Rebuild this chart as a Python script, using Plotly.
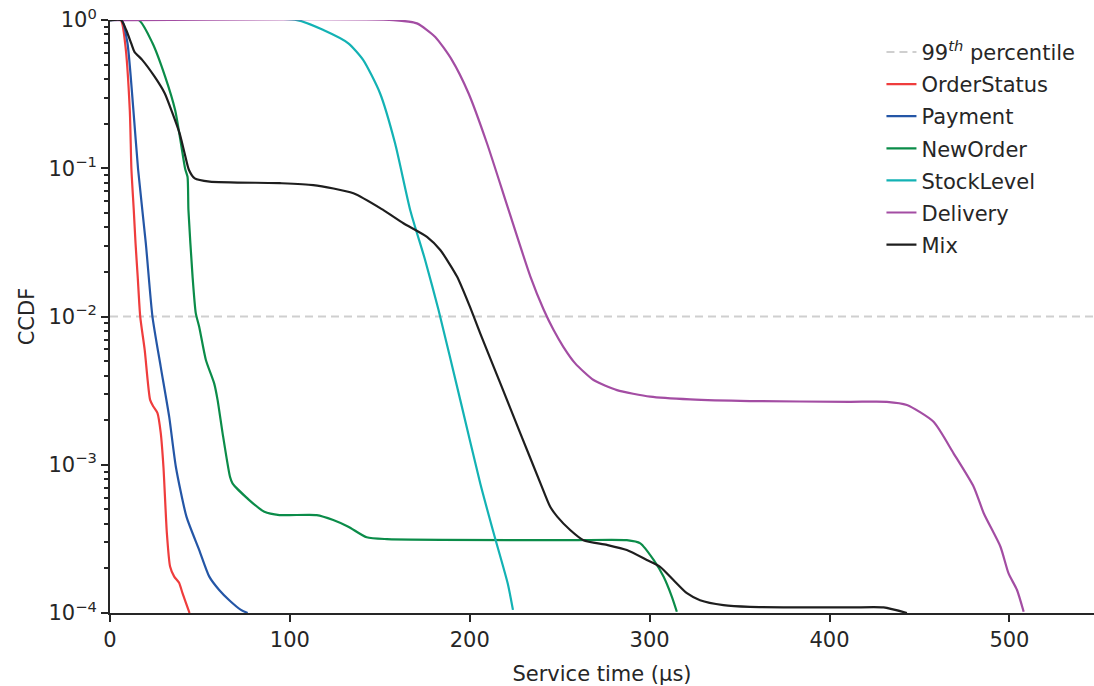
import plotly.graph_objects as go

# ---------------- data ----------------
x_orderstatus = [0, 6, 8.4, 11, 11.9, 13.2, 14.2, 15.4, 16.8, 19.3, 22.3, 24.1, 26.4, 28.2,
                 29.7, 31.6, 33.4, 35.7, 38.4, 40.3, 43.6, 44.2]
y_orderstatus = [1, 1, 0.70, 0.247, 0.0989, 0.0525, 0.0312, 0.0186, 0.01, 0.00594, 0.00274,
                 0.00247, 0.00223, 0.00164, 0.00097, 0.000347, 0.000206, 0.000176, 0.000160,
                 0.000136, 0.000105, 0.0001]

x_payment = [0, 6.5, 9.7, 13, 15.6, 19.9, 23.6, 28.2, 32.9, 36.6, 42.5, 49.6, 55.2, 60.7,
             66.3, 72.8, 76.5]
y_payment = [1, 1, 0.70, 0.247, 0.0989, 0.0313, 0.01, 0.00458, 0.00211, 0.00097, 0.000447,
             0.000266, 0.000176, 0.000143, 0.000122, 0.000105, 0.0001]

x_neworder = [0, 16, 23.6, 30.6, 36.2, 39.4, 41.8, 43.1, 43.6, 45.9, 47.7, 49.6, 53.3, 57.9,
              59.8, 62.6, 66.7, 68.1, 77.4, 85.8, 94.2, 114.9, 124.1, 132.5, 142.7, 153.9,
              256, 287.3, 294.8, 302.2, 307.7, 312.3, 315.1]
y_neworder = [1, 1, 0.70, 0.417, 0.247, 0.148, 0.0989, 0.0877, 0.0523, 0.0186, 0.0105,
              0.0085, 0.00509, 0.00354, 0.00274, 0.00163, 0.00083, 0.00075, 0.000578,
              0.000482, 0.000458, 0.000458, 0.000424, 0.000382, 0.000324, 0.000315,
              0.00031, 0.00031, 0.000295, 0.000228, 0.000176, 0.000129, 0.000102]

x_stocklevel = [0, 104, 118.6, 132.5, 140.8, 150.1, 158.5, 166.9, 175.2, 182.6, 194.7,
                205.8, 213.3, 221.1, 224]
y_stocklevel = [1, 1, 0.857, 0.697, 0.537, 0.321, 0.147, 0.0522, 0.024, 0.0111, 0.00274,
                0.00075, 0.000345, 0.000158, 0.000105]

x_delivery = [0, 157.5, 170.6, 180.8, 190.1, 199.3, 209.6, 221.6, 233.7, 241.1, 246.6, 252,
              258.6, 268.8, 281.8, 300.3, 322.5, 355.8, 411.4, 431.9, 443, 457.8, 469,
              480.1, 485.7, 495, 499.5, 504.2, 507.9]
y_delivery = [1, 1, 0.95, 0.77, 0.537, 0.321, 0.147, 0.0522, 0.0186, 0.0111, 0.0081,
              0.00625, 0.00483, 0.00373, 0.00319, 0.00288, 0.00276, 0.00269, 0.00266,
              0.00266, 0.00253, 0.00195, 0.00119, 0.000711, 0.000471, 0.00028, 0.000185,
              0.000143, 0.000102]

x_mix = [0, 6.2, 9, 11.8, 13.6, 18, 24.8, 30.4, 34.1, 38.7, 41.5, 43.9, 47.1, 55.4, 94.4,
         113, 135.3, 152, 163.1, 176.2, 183.6, 192.9, 200, 205.8, 217, 228.1, 239.3, 244.7,
         248.6, 255.8, 263.2, 276.2, 287.3, 298.4, 305.8, 313.2, 320.7, 328, 341, 355.8,
         411.4, 430, 443]
y_mix = [1, 1, 0.857, 0.697, 0.611, 0.537, 0.415, 0.321, 0.247, 0.172, 0.126, 0.0973,
         0.0855, 0.0813, 0.0794, 0.0771, 0.0678, 0.0522, 0.0426, 0.0345, 0.0281, 0.0186,
         0.0117, 0.0077, 0.00354, 0.00163, 0.00075, 0.000521, 0.000447, 0.000363, 0.00031,
         0.000288, 0.000266, 0.000228, 0.000205, 0.000167, 0.000136, 0.000122, 0.000113,
         0.00011, 0.000109, 0.000109, 0.0001]

percentile_level = 0.01
series_names = ["OrderStatus", "Payment", "NewOrder", "StockLevel", "Delivery", "Mix"]
x_tick_vals = [0, 100, 200, 300, 400, 500]
y_tick_exps = [0, -1, -2, -3, -4]
x_range = [0, 547]

# ---------------- styling ----------------
colors = ["#ef3d3d", "#2456a6", "#0b8c49", "#13b2b4", "#a34da3", "#1e1e1e"]
TEXT = "#262626"
FONT = "DejaVu Sans"
FS = 21

fig = go.Figure()

fig.add_trace(go.Scatter(
    x=x_range, y=[percentile_level, percentile_level], mode="lines",
    name="99<sup><i>th</i></sup> percentile",
    line=dict(color="#cfcfcf", width=2, dash="8px,5px"),
    legendgroup="p", hoverinfo="skip"))

all_x = [x_orderstatus, x_payment, x_neworder, x_stocklevel, x_delivery, x_mix]
all_y = [y_orderstatus, y_payment, y_neworder, y_stocklevel, y_delivery, y_mix]
for name, xs, ys, c in zip(series_names, all_x, all_y, colors):
    fig.add_trace(go.Scatter(x=xs, y=ys, mode="lines", name=name,
                             line=dict(color=c, width=2.2, shape="spline", smoothing=0.6),
                             legendgroup=name))

minor_vals = [m * 10 ** e for e in range(-4, 0) for m in range(2, 10)]

fig.update_layout(
    width=1094, height=686,
    margin=dict(l=110, r=0, t=20, b=73),
    plot_bgcolor="white", paper_bgcolor="white",
    font=dict(family=FONT, size=FS, color=TEXT),
    legend=dict(x=0.784, y=0.98, xanchor="left", yanchor="top",
                bgcolor="rgba(0,0,0,0)", font=dict(size=FS, color=TEXT),
                tracegroupgap=1.8, traceorder="grouped"),
    xaxis=dict(range=x_range, tickvals=x_tick_vals, showline=True, linecolor=TEXT,
               linewidth=2, ticks="outside", ticklen=7, tickwidth=2, tickcolor=TEXT,
               showgrid=False, zeroline=False,
               title=dict(text="Service time (µs)", font=dict(size=FS), standoff=15)),
    yaxis=dict(type="log", range=[-4, 0.0005],
               tickvals=[10 ** e for e in y_tick_exps],
               ticktext=["10<sup>%s</sup>" % (str(e).replace("-", "−")) for e in y_tick_exps],
               showline=True, linecolor=TEXT, linewidth=2, ticks="outside", ticklen=7,
               tickwidth=2, tickcolor=TEXT, showgrid=False, zeroline=False,
               minor=dict(tickvals=minor_vals, ticks="outside", ticklen=4, tickwidth=1.5,
                          tickcolor=TEXT, showgrid=False),
               title=dict(text="CCDF", font=dict(size=FS), standoff=8)),
)

fig.write_html("out.html", config={"displayModeBar": False},
               post_script="document.body.style.margin='0';document.body.style.overflow='hidden';")
